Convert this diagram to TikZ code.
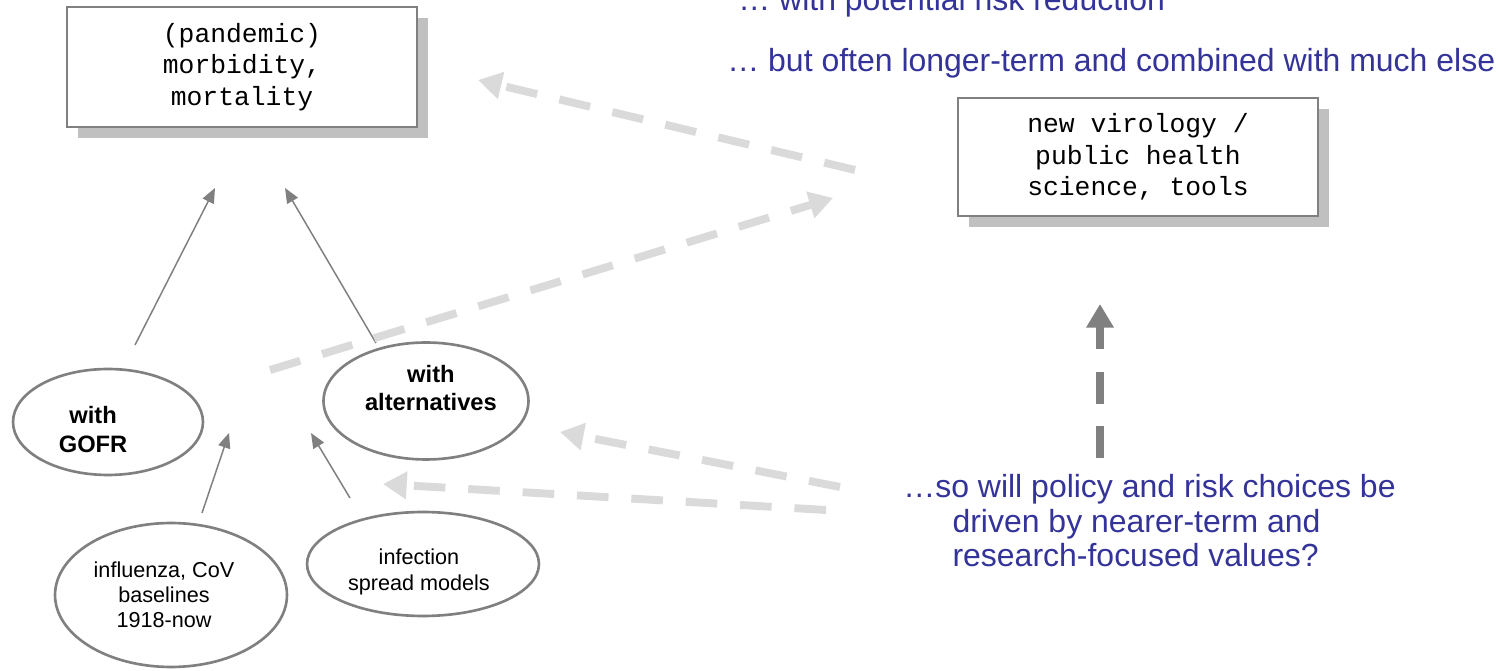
\documentclass[tikz,border=0pt]{standalone}
\usepackage{fontspec}
\setmainfont{Liberation Sans}
\setmonofont{Liberation Mono}
\usetikzlibrary{shapes.geometric,arrows.meta,shadows}
\definecolor{boxgray}{HTML}{808080}
\definecolor{shadegray}{HTML}{C0C0C0}
\definecolor{dashgray}{HTML}{DADADA}
\definecolor{noteblue}{HTML}{333399}
\tikzset{
	sciencebox/.style={draw=boxgray, line width=1.1pt, fill=white, inner sep=0pt, align=center, font=\ttfamily\fontsize{15pt}{17.9pt}\selectfont, drop shadow={shadow xshift=6.2pt, shadow yshift=-6.5pt, fill=shadegray, opacity=1}},
	studyoval/.style={ellipse, draw=boxgray, line width=1.5pt, inner sep=0pt},
	studytext/.style={align=center, inner sep=0pt, font=\fontsize{12.3pt}{14.3pt}\selectfont},
	casetext/.style={studytext, font=\bfseries\fontsize{13.5pt}{16.2pt}\selectfont},
	note/.style={text=noteblue, inner sep=0pt, align=left, font=\fontsize{18.2pt}{19.8pt}\selectfont},
	thinarrow/.style={draw=boxgray, line width=0.85pt, -{Triangle[length=8.5pt,width=7pt]}},
	widearrow/.style={draw=dashgray, line width=4.5pt, dash pattern=on 18pt off 13pt, -{Triangle[length=13.5pt,width=15pt]}},
	darkarrow/.style={widearrow, draw=boxgray}
}
\begin{document}
\begin{tikzpicture}[x=0.02cm, y=-0.02cm]
		\useasboundingbox (0,0) rectangle (1498,671);
		\node[sciencebox, minimum width=7cm, minimum height=2.4cm] (morb) at (242,67) {(pandemic)\\morbidity,\\mortality};
		\node[sciencebox, minimum width=7.2cm, minimum height=2.36cm] (sci) at (1138,157) {new virology /\\public health\\science, tools};
		\node[studyoval, minimum width=3.8cm, minimum height=2.12cm, label={[casetext, xshift=-8.5pt, yshift=-4.3pt]center:with\\GOFR}] (gofr) at (108,422) {};
		\node[studyoval, minimum width=4.1cm, minimum height=2.34cm, label={[casetext, xshift=2.8pt, yshift=7.4pt]center:with\\alternatives}] (alt) at (426,401) {};
		\node[studyoval, minimum width=4.64cm, minimum height=2.88cm, label={[studytext, xshift=-4pt]center:influenza, CoV\\baselines\\1918-now}] (base) at (171,595) {};
		\node[studyoval, minimum width=4.64cm, minimum height=2.08cm, label={[studytext, xshift=-2.3pt, yshift=-4.5pt]center:infection\\spread models}] (models) at (423,564) {};
		\node[note, anchor=base west] (risk) at (738,11) {… with potential risk reduction};
		\node[note, anchor=base west] (longterm) at (727,72) {… but often longer-term and combined with much else};
		\node[note, anchor=base west] (values) at (903,567) {…so will policy and risk choices be\\\hspace*{28pt}driven by nearer-term and\\\hspace*{28pt}research-focused values?};
		\coordinate (gofrout) at (135,345);
		\coordinate (morbin1) at (215,188);
		\coordinate (altout) at (376,343);
		\coordinate (morbin2) at (285,188);
		\coordinate (baseout) at (202,513);
		\coordinate (gofrin) at (229,433);
		\coordinate (modelsout) at (350,498);
		\coordinate (altin) at (311,433);
		\coordinate (sciout) at (855,170);
		\coordinate (morbin3) at (478,80);
		\coordinate (gofrtrail) at (270,370);
		\coordinate (sciin) at (833,198);
		\coordinate (valuesout1) at (840,487);
		\coordinate (altin2) at (560,432);
		\coordinate (valuesout2) at (826,510);
		\coordinate (modelsin) at (383,484);
		\coordinate (valuesup) at (1100,458);
		\coordinate (sciin2) at (1100,304);
		\draw[thinarrow] (gofrout) -- (morbin1);
		\draw[thinarrow] (altout) -- (morbin2);
		\draw[thinarrow] (baseout) -- (gofrin);
		\draw[thinarrow] (modelsout) -- (altin);
		\draw[widearrow] (sciout) -- (morbin3);
		\draw[widearrow] (gofrtrail) -- (sciin);
		\draw[widearrow] (valuesout1) -- (altin2);
		\draw[widearrow] (valuesout2) -- (modelsin);
		\draw[darkarrow] (valuesup) -- (sciin2);
\end{tikzpicture}
\end{document}
